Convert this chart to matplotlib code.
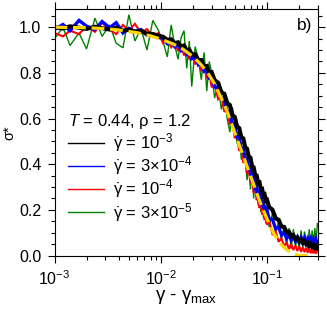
"""Curvas sigma* vs (gamma - gamma_max) para varias tasas de corte, panel b)."""
import matplotlib
matplotlib.use("Agg")
import matplotlib.pyplot as plt
from matplotlib.lines import Line2D
from matplotlib.ticker import MultipleLocator, FormatStrFormatter

plt.rcParams["font.family"] = ["Liberation Sans", "DejaVu Sans"]
plt.rcParams["mathtext.fontset"] = "custom"
plt.rcParams["mathtext.rm"] = "Liberation Sans"
plt.rcParams["mathtext.it"] = "Liberation Sans:italic"
plt.rcParams["font.size"] = 11.5

# eje x común (gamma - gamma_max)
dgamma = [0.0010, 0.0012, 0.0014, 0.0017, 0.0020, 0.0024, 0.0028, 0.0033, 0.0038, 0.0044,
          0.0050, 0.0057, 0.0065, 0.0074, 0.0084, 0.0095, 0.0105, 0.0115, 0.0125, 0.0135,
          0.0145, 0.0155, 0.0165, 0.0175, 0.0185, 0.0195, 0.021, 0.0225, 0.024, 0.0255,
          0.027, 0.0285, 0.030, 0.032, 0.0345, 0.037, 0.0395, 0.042, 0.0445, 0.047,
          0.0495, 0.052, 0.0545, 0.057, 0.0595, 0.062, 0.0645, 0.067, 0.0695, 0.072,
          0.0745, 0.077, 0.0795, 0.082, 0.0845, 0.087, 0.0895, 0.092, 0.0945, 0.097,
          0.0995, 0.104, 0.112, 0.120, 0.128, 0.136, 0.144, 0.152, 0.160, 0.168,
          0.176, 0.184, 0.192, 0.200, 0.208, 0.216, 0.224, 0.232, 0.240, 0.248,
          0.256, 0.264, 0.272, 0.280, 0.288, 0.296]

sig_1e3 = [1.000, 0.995, 1.004, 0.998, 0.993, 1.002, 0.996, 0.990, 0.997, 0.985,
           0.989, 0.980, 0.984, 0.972, 0.970, 0.963, 0.958, 0.944, 0.947, 0.930,
           0.934, 0.916, 0.920, 0.898, 0.902, 0.881, 0.882, 0.855, 0.856, 0.828,
           0.830, 0.800, 0.803, 0.768, 0.757, 0.716, 0.708, 0.668, 0.659, 0.615,
           0.607, 0.566, 0.558, 0.518, 0.513, 0.474, 0.468, 0.431, 0.428, 0.390,
           0.386, 0.352, 0.350, 0.318, 0.320, 0.289, 0.291, 0.262, 0.266, 0.240,
           0.243, 0.213, 0.200, 0.163, 0.156, 0.127, 0.125, 0.102, 0.104, 0.084,
           0.089, 0.072, 0.078, 0.063, 0.070, 0.056, 0.062, 0.050, 0.056, 0.044,
           0.051, 0.040, 0.046, 0.035, 0.041, 0.032]

sig_3e4 = [0.990, 1.012, 0.985, 1.030, 1.005, 0.990, 1.025, 0.998, 1.020, 0.975,
           0.995, 0.982, 0.990, 0.965, 0.972, 0.955, 0.952, 0.928, 0.940, 0.915,
           0.926, 0.898, 0.910, 0.882, 0.893, 0.862, 0.870, 0.836, 0.845, 0.808,
           0.816, 0.778, 0.782, 0.738, 0.737, 0.685, 0.682, 0.630, 0.627, 0.575,
           0.572, 0.520, 0.517, 0.467, 0.467, 0.420, 0.422, 0.376, 0.378, 0.333,
           0.337, 0.294, 0.300, 0.260, 0.270, 0.233, 0.244, 0.208, 0.220, 0.186,
           0.198, 0.160, 0.158, 0.117, 0.124, 0.090, 0.102, 0.075, 0.090, 0.068,
           0.084, 0.063, 0.080, 0.060, 0.078, 0.058, 0.076, 0.056, 0.073, 0.055,
           0.072, 0.052, 0.070, 0.051, 0.069, 0.052]

sig_1e4 = [0.975, 0.960, 0.985, 0.970, 1.005, 0.980, 1.020, 0.990, 0.970, 1.010,
           0.985, 1.015, 0.975, 0.992, 0.960, 0.975, 0.930, 0.948, 0.912, 0.932,
           0.896, 0.918, 0.877, 0.900, 0.860, 0.884, 0.838, 0.858, 0.808, 0.830,
           0.776, 0.799, 0.737, 0.752, 0.685, 0.697, 0.630, 0.642, 0.572, 0.585,
           0.514, 0.528, 0.458, 0.474, 0.406, 0.425, 0.360, 0.378, 0.316, 0.334,
           0.276, 0.295, 0.242, 0.262, 0.208, 0.230, 0.180, 0.202, 0.155, 0.178,
           0.135, 0.152, 0.094, 0.105, 0.060, 0.075, 0.040, 0.058, 0.028, 0.050,
           0.024, 0.044, 0.020, 0.040, 0.016, 0.036, 0.015, 0.034, 0.012, 0.032,
           0.010, 0.030, 0.009, 0.028, 0.008, 0.024]

sig_3e5 = [0.950, 1.000, 0.920, 0.975, 0.905, 1.040, 0.960, 1.010, 0.930, 0.910,
           1.055, 0.940, 0.995, 0.900, 1.030, 0.985, 0.935, 0.870, 1.010, 0.920,
           0.860, 0.955, 0.985, 0.820, 0.940, 0.740, 0.915, 0.860, 0.770, 0.890,
           0.720, 0.850, 0.800, 0.690, 0.750, 0.640, 0.705, 0.600, 0.540, 0.650,
           0.580, 0.490, 0.540, 0.420, 0.480, 0.440, 0.330, 0.400, 0.290, 0.395,
           0.250, 0.350, 0.300, 0.220, 0.290, 0.190, 0.265, 0.165, 0.240, 0.140,
           0.215, 0.125, 0.185, 0.100, 0.150, 0.070, 0.130, 0.045, 0.120, 0.030,
           0.115, 0.040, 0.080, 0.030, 0.110, 0.035, 0.105, 0.070, 0.030, 0.115,
           0.035, 0.110, 0.040, 0.120, 0.060, 0.140]

# ajuste (línea amarilla discontinua)
fit_x = [0.001, 0.002, 0.003, 0.004, 0.006, 0.008, 0.010, 0.013, 0.016, 0.020,
         0.024, 0.028, 0.032, 0.036, 0.040, 0.044, 0.048, 0.053, 0.058, 0.064,
         0.070, 0.076, 0.083, 0.090, 0.098, 0.106, 0.115, 0.125, 0.135, 0.145,
         0.160, 0.175, 0.190, 0.210, 0.240, 0.270]
fit_y = [1.000, 0.998, 0.994, 0.988, 0.976, 0.962, 0.948, 0.927, 0.905, 0.872,
         0.835, 0.795, 0.752, 0.700, 0.655, 0.605, 0.555, 0.500, 0.450, 0.395,
         0.345, 0.300, 0.250, 0.208, 0.168, 0.130, 0.097, 0.070, 0.050, 0.034,
         0.018, 0.008, 0.002, 0.000, 0.000, 0.000]

series = [
    (sig_3e5, "green", 1.0, r"$\dot{\mathrm{\gamma}}$ = 3$\times$10$^{-5}$"),
    (sig_1e4, "red", 1.5, r"$\dot{\mathrm{\gamma}}$ = 10$^{-4}$"),
    (sig_3e4, "blue", 2.4, r"$\dot{\mathrm{\gamma}}$ = 3$\times$10$^{-4}$"),
    (sig_1e3, "black", 3.0, r"$\dot{\mathrm{\gamma}}$ = 10$^{-3}$"),
]

fig = plt.figure(figsize=(3.27, 3.10), dpi=100)
ax = fig.add_axes([0.1667, 0.1758, 0.8058, 0.7952])

for y, c, lw, _ in series:
    ax.plot(dgamma, y, color=c, lw=lw, solid_joinstyle="miter")
ax.plot(fit_x, fit_y, color="#ffd700", lw=2.3, dashes=(4, 1.8))

ax.set_xscale("log")
ax.set_xlim(1e-3, 0.3)
ax.set_ylim(0, 1.08)
ax.yaxis.set_major_locator(MultipleLocator(0.2))
ax.yaxis.set_minor_locator(MultipleLocator(0.05))
ax.yaxis.set_major_formatter(FormatStrFormatter("%.1f"))
ax.tick_params(which="both", direction="out", top=True, right=True, labelsize=11.5)
ax.tick_params(which="major", length=5, width=0.8)
ax.tick_params(which="minor", length=3, width=0.8)
ax.tick_params(axis="x", which="major", pad=5)
ax.tick_params(axis="y", which="major", pad=4.5)

ax.set_xlabel(r"γ - γ$_{\mathrm{max}}$", fontsize=13.5, labelpad=0)
# asterisco como texto normal: queda pegado a la sigma, como en el original
ax.set_ylabel("σ*", fontsize=10.5)
ax.yaxis.set_label_coords(-0.145, 0.5)
ax.text(0.977, 0.935, "b)", transform=ax.transAxes, ha="right", va="center", fontsize=12.5)

handles = [Line2D([], [], color=c, lw=1.0) for _, c, _, _ in series[::-1]]
labels = [lab for _, _, _, lab in series[::-1]]
ax.legend(handles, labels, title=r"$T$ = 0.44, ρ = 1.2", alignment="left",
          loc="upper left", bbox_to_anchor=(0.018, 0.617), frameon=False,
          borderpad=0, handlelength=2.2, handletextpad=0.55, labelspacing=0.02,
          fontsize=12, title_fontsize=12)

fig.savefig("out.png", dpi=100)
